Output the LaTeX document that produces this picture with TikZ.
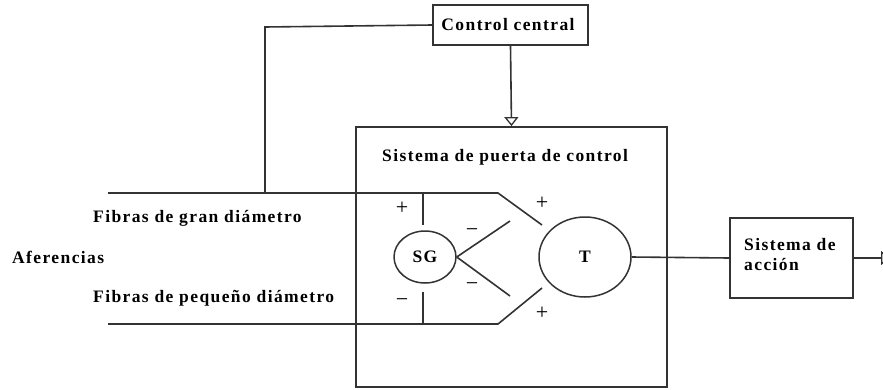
\documentclass[tikz,border=0pt]{standalone}
\usepackage{fontspec}
\setmainfont{Liberation Serif}
\usetikzlibrary{arrows.meta,shapes.geometric}
\newfontfamily\lblfont[LetterSpace=8]{Liberation Serif}
\begin{document}
\begin{tikzpicture}[x=1pt,y=-1pt,
  ln/.style={draw=black!80, line width=1.6pt},
  boxnode/.style={draw=black!80, line width=1.8pt, inner sep=0pt},
  lbl/.style={font=\lblfont\bfseries\fontsize{17.5}{20}\selectfont, inner sep=0pt},
  sign/.style={font=\fontsize{22}{23}\selectfont, inner sep=0pt},
  opentip/.style={-{Triangle[open,width=14pt,length=9pt,line width=1.3pt]}}]
\useasboundingbox (0,0) rectangle (883,389);
\clip (0,0) rectangle (883,389);
% boxes
\node[boxnode, minimum width=155pt, minimum height=40pt] (cc) at (510.5,25) {};
\node[lbl] (cctxt) at (508,25) {Control central};
\node[boxnode, minimum width=311pt, minimum height=260pt] (gate) at (511.5,257) {};
\node[lbl, anchor=west] (gatetxt) at (382,157) {Sistema de puerta de control};
\node[boxnode, minimum width=123pt, minimum height=80pt] (action) at (791.5,258) {};
\node[lbl, anchor=west, align=left] (actiontxt) at (744,255) {Sistema de\\acción};
% circles
\node[ellipse, draw=black!80, line width=1.5pt, minimum width=62pt, minimum height=52pt, inner sep=0pt] (sg) at (425,257) {};
\node[lbl] (sgtxt) at (425,257) {SG};
\node[ellipse, draw=black!80, line width=1.5pt, minimum width=92pt, minimum height=80pt, inner sep=0pt] (t) at (585,257) {};
\node[lbl] (ttxt) at (585,257) {T};
% left labels
\node[lbl, anchor=west] (gran) at (93,218) {Fibras de gran diámetro};
\node[lbl, anchor=west] (afer) at (12,257) {Aferencias};
\node[lbl, anchor=west] (peq) at (93,298) {Fibras de pequeño diámetro};
% coordinates
\coordinate (topL) at (108,193);
\coordinate (topK) at (498,193);
\coordinate (topE) at (542,225);
\coordinate (botL) at (108,324);
\coordinate (botK) at (498,324);
\coordinate (botE) at (542,288);
\coordinate (stubT1) at (423,193);
\coordinate (stubT2) at (423,225);
\coordinate (stubB1) at (423,292);
\coordinate (stubB2) at (423,324);
\coordinate (sgU) at (510,221);
\coordinate (sgD) at (510,296);
\coordinate (fbK) at (265,27);
\coordinate (fbE) at (265,193);
\coordinate (outE) at (890,258);
% connectors
\draw[ln] (topL) -- (topK) -- (topE);
\draw[ln] (botL) -- (botK) -- (botE);
\draw[ln] (stubT1) -- (stubT2);
\draw[ln] (stubB1) -- (stubB2);
\draw[ln] (sg.east) -- (sgU);
\draw[ln] (sg.east) -- (sgD);
\draw[ln] (t.east) -- (action.west);
\draw[ln] (cc.west) -- (fbK) -- (fbE);
\draw[ln, opentip] (cc.south) -- (gate.north);
\draw[ln, opentip] (action.east) -- (outE);
% signs
\node[sign] (p1) at (402,208) {+};
\node[sign] (m1) at (472,233) {−};
\node[sign] (m2) at (472,287) {−};
\node[sign] (m3) at (402,303) {−};
\node[sign] (p2) at (542,203) {+};
\node[sign] (p3) at (542,313) {+};
\end{tikzpicture}
\end{document}
